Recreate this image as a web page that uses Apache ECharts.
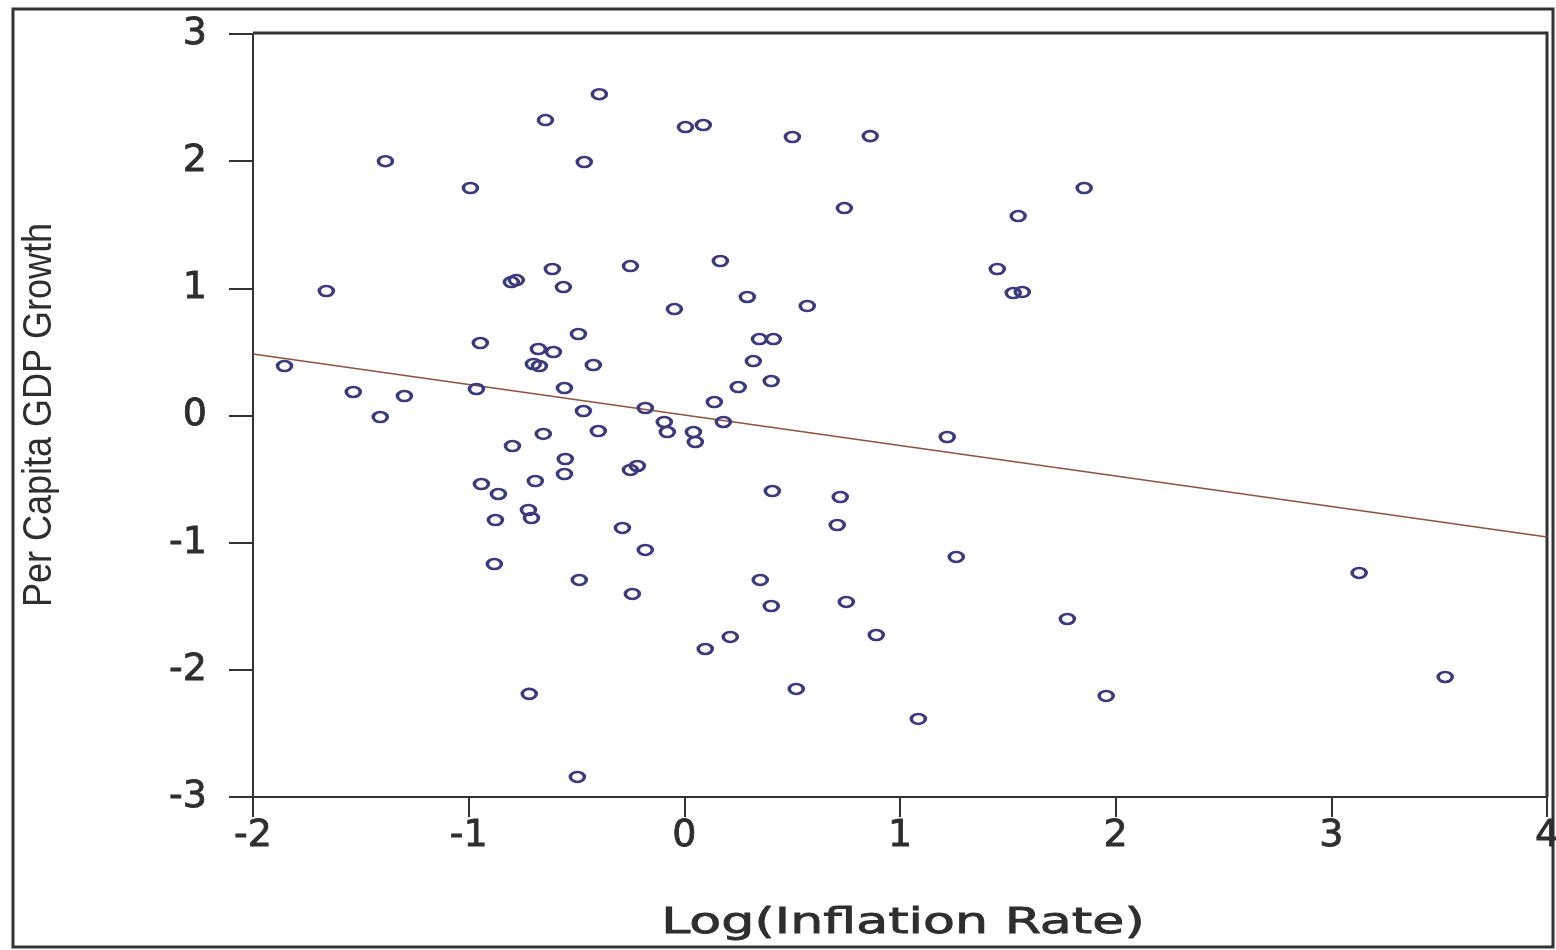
<!DOCTYPE html>
<html><head><meta charset="utf-8">
<script src="https://cdn.jsdelivr.net/npm/echarts@6/dist/echarts.min.js"></script>
<style>html,body{margin:0;padding:0;background:#fff}#c{width:1556px;height:950px}</style>
</head><body><div id="c"></div>
<script>
const inflation = [-1.854,-1.66,-1.535,-1.41,-1.386,-1.298,-0.992,-0.964,-0.946,-0.941,-0.862,-0.876,-0.881,-0.802,-0.779,-0.797,-0.723,-0.709,-0.719,-0.700,-0.672,-0.677,-0.691,-0.654,-0.644,-0.612,-0.607,-0.561,-0.556,-0.552,-0.556,-0.491,-0.487,-0.496,-0.464,-0.468,-0.422,-0.399,-0.394,-0.287,-0.250,-0.241,-0.250,-0.218,-0.181,-0.181,-0.093,-0.079,-0.046,0.005,0.088,0.042,0.051,0.097,0.139,0.167,0.181,0.213,0.250,0.292,0.320,0.348,0.413,0.352,0.403,0.403,0.408,0.501,0.519,0.570,0.709,0.723,0.742,0.751,0.862,0.890,1.085,1.219,1.261,1.451,1.525,1.567,1.548,1.776,1.854,1.956,3.129,3.528];
const growth = [0.389,0.979,0.185,-0.012,2.0,0.153,1.789,0.208,0.570,-0.539,-0.617,-0.822,-1.168,1.049,1.065,-0.240,-0.743,-0.806,-2.189,0.405,0.389,0.523,-0.515,-0.145,2.323,1.152,0.499,1.010,0.216,-0.342,-0.460,0.641,-1.293,-2.842,1.993,0.035,0.397,-0.122,2.527,-0.884,1.175,-1.403,-0.428,-0.397,-1.057,0.059,-0.051,-0.130,0.837,2.268,2.284,-0.130,-0.208,-1.836,0.106,1.215,-0.051,-1.741,0.224,0.932,0.428,0.601,0.601,-1.293,0.271,-1.498,-0.594,2.190,-2.150,0.861,-0.861,-0.641,1.631,-1.466,2.197,-1.726,-2.386,-0.169,-1.112,1.152,0.963,0.971,1.568,-1.600,1.789,-2.205,-1.238,-2.056];
const fitX = [-2, 4];
const fitY = [0.483, -0.955];
const xTitle = 'Log(Inflation Rate)';
const yTitle = 'Per Capita GDP Growth';

const chart = echarts.init(document.getElementById('c'), null, {renderer:'canvas'});
const txt = '#2e2e2e';
const tickFont = 'DejaVu Sans, Verdana, sans-serif';
chart.setOption({
  animation:false,
  backgroundColor:'#fff',
  grid:{left:253, top:34, width:1294, height:763, show:false, containLabel:false, outerBoundsMode:'none'},
  xAxis:{type:'value', min:-2, max:4, interval:1,
    axisLine:{show:true, onZero:false, lineStyle:{color:'#333', width:2}},
    axisTick:{show:true, inside:false, length:20, lineStyle:{color:'#333', width:2}},
    splitLine:{show:false},
    axisLabel:{color:txt, fontSize:38, fontFamily:tickFont, margin:20, hideOverlap:false,
      textBorderColor:txt, textBorderWidth:0.8}
  },
  yAxis:{type:'value', min:-3, max:3, interval:1,
    axisLine:{show:true, onZero:false, lineStyle:{color:'#333', width:2}},
    axisTick:{show:true, inside:false, length:24, lineStyle:{color:'#333', width:2}},
    splitLine:{show:false},
    axisLabel:{color:txt, fontSize:38, fontFamily:tickFont, margin:46, hideOverlap:false,
      textBorderColor:txt, textBorderWidth:0.8}
  },
  graphic:[
    {type:'rect', shape:{x:13, y:9, width:1540, height:938}, style:{fill:'none', stroke:'#333', lineWidth:3}, silent:true},
    {type:'polyline', shape:{points:[[253,33],[1547,33],[1547,797]]}, style:{fill:'none', stroke:'#333', lineWidth:3}, silent:true},
    {type:'text', x:903, y:924, scaleX:1.45, silent:true,
      style:{text:xTitle, fill:txt, stroke:txt, lineWidth:0.8, font:'36px "DejaVu Sans", Verdana, sans-serif', align:'center', verticalAlign:'middle'}},
    {type:'text', x:40, y:415, rotation:Math.PI/2, scaleX:0.9, silent:true,
      style:{text:yTitle, fill:txt, font:'40px "Liberation Sans", Arial, sans-serif', align:'center', verticalAlign:'middle'}}
  ],
  series:[
    {type:'scatter', data: inflation.map((x,i)=>[x, growth[i]]),
      symbol:'circle', symbolSize:[14,10],
      itemStyle:{color:'rgba(255,255,255,0)', borderColor:'#3b3a7c', borderWidth:3, opacity:1}, z:3},
    {type:'line', data: fitX.map((x,i)=>[x, fitY[i]]), symbol:'none',
      lineStyle:{color:'#8e5340', width:1.6}, z:2}
  ]
});
</script></body></html>
